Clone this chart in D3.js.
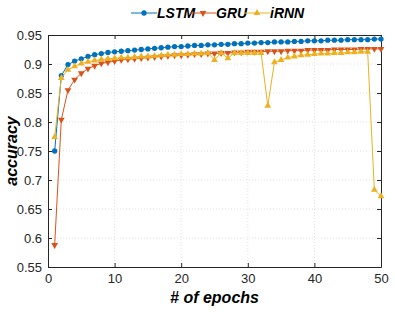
<!DOCTYPE html>
<html>
<head>
<meta charset="utf-8">
<script src="https://cdn.jsdelivr.net/npm/d3@7"></script>
<style>
  body { margin: 0; background: #fff; }
  text { font-family: "Liberation Sans", Arial, sans-serif; }
</style>
</head>
<body>
<div id="chart"></div>
<script>
// accuracy per epoch
var epochs = d3.range(1, 51);
var lstm = [0.750, 0.880, 0.899, 0.905, 0.909, 0.913, 0.916, 0.918, 0.920, 0.921,
            0.922, 0.923, 0.924, 0.925, 0.926, 0.927, 0.928, 0.929, 0.930, 0.930,
            0.931, 0.932, 0.932, 0.933, 0.933, 0.934, 0.934, 0.935, 0.935, 0.936,
            0.936, 0.937, 0.937, 0.938, 0.938, 0.938, 0.939, 0.939, 0.940, 0.940,
            0.940, 0.941, 0.941, 0.941, 0.942, 0.942, 0.942, 0.942, 0.943, 0.943];
var gru = [0.588, 0.804, 0.855, 0.873, 0.884, 0.892, 0.897, 0.901, 0.903, 0.905,
           0.907, 0.908, 0.909, 0.910, 0.911, 0.912, 0.913, 0.914, 0.915, 0.915,
           0.916, 0.917, 0.917, 0.918, 0.918, 0.919, 0.919, 0.920, 0.920, 0.921,
           0.921, 0.921, 0.922, 0.922, 0.922, 0.923, 0.923, 0.923, 0.924, 0.924,
           0.924, 0.924, 0.925, 0.925, 0.925, 0.925, 0.926, 0.926, 0.926, 0.926];
var irnn = [0.774, 0.876, 0.890, 0.896, 0.901, 0.904, 0.906, 0.908, 0.909, 0.910,
            0.911, 0.911, 0.912, 0.913, 0.913, 0.914, 0.915, 0.916, 0.916, 0.917,
            0.917, 0.918, 0.918, 0.919, 0.907, 0.919, 0.910, 0.919, 0.919, 0.919,
            0.919, 0.919, 0.828, 0.903, 0.907, 0.911, 0.913, 0.915, 0.916, 0.917,
            0.918, 0.918, 0.919, 0.919, 0.920, 0.920, 0.921, 0.921, 0.683, 0.672];
var seriesNames = ["LSTM", "GRU", "iRNN"];
var xTicks = [0, 10, 20, 30, 40, 50];
var yTicks = [0.55, 0.6, 0.65, 0.7, 0.75, 0.8, 0.85, 0.9, 0.95];

var W = 395, H = 312;
var margin = { top: 35, right: 14, bottom: 45, left: 48 };
var width = W - margin.left - margin.right;
var height = H - margin.top - margin.bottom;
var colors = ["#0072BD", "#D95319", "#EDB120"];
var axisColor = "#262626";

var svg = d3.select("#chart").append("svg")
  .attr("width", W)
  .attr("height", H);

var g = svg.append("g")
  .attr("transform", `translate(${margin.left}, ${margin.top})`);

var x = d3.scaleLinear().domain([0, 50]).range([0, width]);
var y = d3.scaleLinear().domain([0.55, 0.95]).range([height, 0]);

// dotted grid
g.append("g").selectAll("line")
  .data(xTicks.slice(1, -1))
  .join("line")
  .attr("x1", d => x(d)).attr("x2", d => x(d))
  .attr("y1", 0).attr("y2", height)
  .attr("stroke", "#e2e2e2").attr("stroke-dasharray", "1,2");
g.append("g").selectAll("line")
  .data(yTicks.slice(1, -1))
  .join("line")
  .attr("x1", 0).attr("x2", width)
  .attr("y1", d => y(d)).attr("y2", d => y(d))
  .attr("stroke", "#e2e2e2").attr("stroke-dasharray", "1,2");

// axes, ticks pointing inwards like matlab
var xAxis = g.append("g")
  .attr("transform", `translate(0, ${height})`)
  .call(d3.axisBottom(x).tickValues(xTicks).tickSize(-4).tickPadding(7).tickSizeOuter(0));
var yAxis = g.append("g")
  .call(d3.axisLeft(y).tickValues(yTicks).tickSize(-4).tickPadding(6)
    .tickFormat(d => String(+d.toFixed(2))).tickSizeOuter(0));
var xTop = g.append("g")
  .call(d3.axisTop(x).tickValues(xTicks).tickSize(-4).tickFormat("").tickSizeOuter(0));
var yRight = g.append("g")
  .attr("transform", `translate(${width}, 0)`)
  .call(d3.axisRight(y).tickValues(yTicks).tickSize(-4).tickFormat("").tickSizeOuter(0));

[xAxis, yAxis, xTop, yRight].forEach(a => {
  a.selectAll("path, line").attr("stroke", axisColor);
  a.selectAll("text").attr("fill", axisColor).attr("font-size", "13px")
    .style("font-family", "Liberation Sans, Arial, sans-serif");
});

// lines and markers
var data = [lstm, gru, irnn];
var line = d3.line().x((d, i) => x(epochs[i])).y(d => y(d));
var symbols = [d3.symbolCircle, d3.symbolTriangle, d3.symbolTriangle];
var symSize = [22, 20, 20];
var symRot = [0, 180, 0];

data.forEach((vals, k) => {
  g.append("path")
    .datum(vals)
    .attr("fill", "none")
    .attr("stroke", colors[k])
    .attr("stroke-width", 1)
    .attr("d", line);
  g.append("g").selectAll("path")
    .data(vals)
    .join("path")
    .attr("d", d3.symbol().type(symbols[k]).size(symSize[k]))
    .attr("transform", (d, i) => `translate(${x(epochs[i])}, ${y(d)}) rotate(${symRot[k]})`)
    .attr("fill", colors[k]);
});

// legend along the top
var legendX = [131, 190, 244];
var legend = svg.append("g");
seriesNames.forEach((name, k) => {
  var lx = legendX[k];
  legend.append("line")
    .attr("x1", lx).attr("x2", lx + 26)
    .attr("y1", 13).attr("y2", 13)
    .attr("stroke", colors[k]);
  legend.append("path")
    .attr("d", d3.symbol().type(symbols[k]).size(symSize[k])())
    .attr("transform", `translate(${lx + 13}, 13) rotate(${symRot[k]})`)
    .attr("fill", colors[k]);
  legend.append("text")
    .attr("x", lx + 26).attr("y", 18)
    .attr("font-size", "14px")
    .attr("font-weight", "bold")
    .attr("font-style", "italic")
    .attr("fill", "#000")
    .text(name);
});

// axis titles
svg.append("text")
  .attr("x", margin.left + width / 2)
  .attr("y", 303)
  .attr("text-anchor", "middle")
  .attr("font-size", "16px")
  .attr("font-weight", "bold")
  .attr("font-style", "italic")
  .text("# of epochs");

svg.append("text")
  .attr("transform", `translate(17, ${margin.top + height / 2}) rotate(-90)`)
  .attr("text-anchor", "middle")
  .attr("font-size", "16px")
  .attr("font-weight", "bold")
  .attr("font-style", "italic")
  .text("accuracy");
</script>
</body>
</html>
